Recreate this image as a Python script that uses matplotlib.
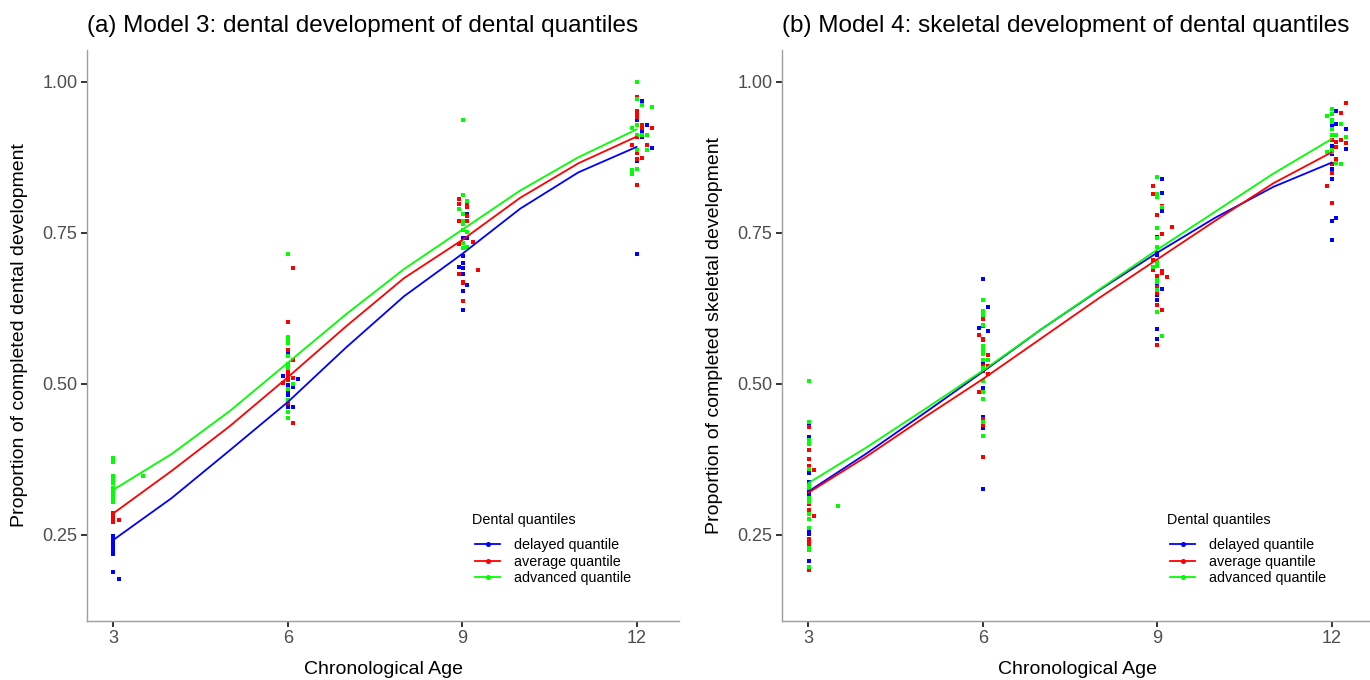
import matplotlib
matplotlib.use("Agg")
import matplotlib.pyplot as plt
from matplotlib.lines import Line2D

plt.rcParams['font.family'] = ['Liberation Sans', 'DejaVu Sans']

# ---------------- data ----------------
ages = [3, 4, 5, 6, 7, 8, 9, 10, 11, 12]
xticks = [3, 6, 9, 12]
yticks = [0.25, 0.50, 0.75, 1.00]
ytick_labels = ["0.25", "0.50", "0.75", "1.00"]
quantile_labels = ["delayed quantile", "average quantile", "advanced quantile"]
colors = ["#0000FF", "#FF0000", "#00FF00"]

# Panel (a) fitted lines
a_line_del = [0.242, 0.311, 0.390, 0.470, 0.560, 0.645, 0.715, 0.790, 0.850, 0.892]
a_line_avg = [0.286, 0.356, 0.430, 0.511, 0.595, 0.675, 0.738, 0.808, 0.865, 0.909]
a_line_adv = [0.325, 0.384, 0.455, 0.535, 0.615, 0.690, 0.755, 0.820, 0.875, 0.921]

# Panel (b) fitted lines
b_line_del = [0.322, 0.385, 0.452, 0.520, 0.590, 0.655, 0.717, 0.775, 0.826, 0.866]
b_line_avg = [0.320, 0.380, 0.445, 0.508, 0.575, 0.642, 0.706, 0.770, 0.832, 0.883]
b_line_adv = [0.336, 0.395, 0.458, 0.522, 0.590, 0.656, 0.722, 0.785, 0.848, 0.905]

# Panel (a) observed points
a_del_x = [3.0]*9 + [3.09] + [6.01]*5 + [5.92, 6.18, 6.09, 6.09] + [9.09, 9.01, 9.09] + [9.01]*6 + [8.94, 9.09] \
          + [12.09, 12.01, 12.01, 12.18, 12.09, 12.09, 12.26, 12.01]
a_del_y = [0.248, 0.245, 0.241, 0.237, 0.233, 0.230, 0.224, 0.218, 0.189, 0.177,
           0.552, 0.498, 0.487, 0.482, 0.462, 0.513, 0.508, 0.495, 0.462,
           0.781, 0.742, 0.742, 0.711, 0.700, 0.692, 0.681, 0.654, 0.622, 0.693, 0.663,
           0.968, 0.937, 0.869, 0.929, 0.917, 0.908, 0.891, 0.715]

a_avg_x = [3.0]*5 + [3.09] + [6.01]*6 + [6.09]*3 + [5.92, 6.09] + [8.94]*5 + [9.09]*4 + [9.18, 9.27] + [9.01]*3 \
          + [12.01]*8 + [12.09]*3 + [12.26, 11.93, 12.18]
a_avg_y = [0.287, 0.283, 0.279, 0.275, 0.272, 0.274,
           0.603, 0.556, 0.519, 0.513, 0.507, 0.468, 0.539, 0.510, 0.435, 0.502, 0.692,
           0.806, 0.798, 0.770, 0.731, 0.682, 0.800, 0.793, 0.777, 0.770, 0.734, 0.688, 0.669, 0.667, 0.637,
           0.975, 0.952, 0.945, 0.941, 0.908, 0.882, 0.872, 0.829, 0.929, 0.923, 0.873, 0.923, 0.895, 0.895]

a_adv_x = [3.0]*11 + [3.5] + [6.01]*11 + [6.09] + [9.01]*8 + [9.09]*3 + [8.94] \
          + [12.01]*6 + [12.09]*2 + [12.26] + [11.93]*3 + [12.18]*2
a_adv_y = [0.377, 0.370, 0.347, 0.341, 0.336, 0.327, 0.324, 0.320, 0.316, 0.309, 0.304, 0.347,
           0.715, 0.577, 0.572, 0.568, 0.546, 0.533, 0.527, 0.491, 0.474, 0.454, 0.443, 0.500,
           0.936, 0.813, 0.781, 0.770, 0.765, 0.755, 0.733, 0.725, 0.803, 0.752, 0.727, 0.790,
           1.000, 0.971, 0.929, 0.912, 0.887, 0.856, 0.961, 0.912, 0.958, 0.923, 0.854, 0.847, 0.912, 0.887]

# Panel (b) observed points
b_del_x = [3.01]*12 + [6.0]*6 + [6.09]*2 + [5.93] + [9.09]*4 + [9.0]*8 \
          + [12.08]*3 + [12.0]*7 + [12.25]*2 + [12.17]
b_del_y = [0.433, 0.412, 0.352, 0.337, 0.325, 0.320, 0.316, 0.308, 0.288, 0.258, 0.252, 0.207,
           0.674, 0.535, 0.494, 0.446, 0.427, 0.326, 0.628, 0.588, 0.592,
           0.839, 0.815, 0.786, 0.657, 0.743, 0.717, 0.714, 0.665, 0.647, 0.639, 0.591, 0.574,
           0.951, 0.930, 0.774, 0.929, 0.894, 0.880, 0.855, 0.839, 0.769, 0.738, 0.921, 0.889, 0.863]

b_avg_x = [3.01]*10 + [3.09]*2 + [6.0]*10 + [5.93]*2 + [6.09]*3 + [8.92]*4 + [9.09]*5 + [9.0]*7 + [9.25, 9.17] \
          + [12.25]*2 + [12.17]*2 + [12.0]*5 + [12.08]*3 + [11.92]
b_avg_y = [0.428, 0.391, 0.375, 0.364, 0.301, 0.291, 0.243, 0.236, 0.231, 0.192, 0.358, 0.281,
           0.608, 0.595, 0.575, 0.572, 0.530, 0.522, 0.442, 0.436, 0.432, 0.379, 0.581, 0.487, 0.547, 0.530, 0.517,
           0.828, 0.814, 0.705, 0.688, 0.795, 0.748, 0.686, 0.683, 0.623,
           0.779, 0.678, 0.661, 0.657, 0.650, 0.631, 0.564, 0.759, 0.677,
           0.965, 0.898, 0.948, 0.903, 0.904, 0.883, 0.864, 0.849, 0.799, 0.901, 0.892, 0.872, 0.827]

b_adv_x = [3.01]*15 + [3.5] + [6.0]*14 + [6.09] + [9.0]*12 + [9.09]*2 + [8.92] \
          + [12.0]*8 + [11.92]*2 + [12.17]*2 + [12.08]*2 + [12.25]
b_adv_y = [0.505, 0.437, 0.407, 0.401, 0.359, 0.333, 0.328, 0.312, 0.304, 0.285, 0.276, 0.261, 0.228, 0.225, 0.197, 0.298,
           0.639, 0.620, 0.614, 0.598, 0.563, 0.556, 0.549, 0.539, 0.526, 0.504, 0.486, 0.475, 0.437, 0.414, 0.540,
           0.843, 0.814, 0.810, 0.758, 0.741, 0.727, 0.702, 0.695, 0.672, 0.668, 0.656, 0.619, 0.792, 0.580, 0.693,
           0.954, 0.947, 0.937, 0.933, 0.921, 0.912, 0.887, 0.884, 0.944, 0.883, 0.930, 0.864, 0.911, 0.865, 0.908]

titles = ["(a) Model 3: dental development of dental quantiles",
          "(b) Model 4: skeletal development of dental quantiles"]
ylabels = ["Proportion of completed dental development",
           "Proportion of completed skeletal development"]
xlabel = "Chronological Age"
legend_title = "Dental quantiles"

# ---------------- figure ----------------
W, H = 1370, 680
fig = plt.figure(figsize=(W / 100, H / 100), dpi=100)

AX_TOP, AX_BOT, AX_W = 50, 620.5, 592
AX_H = AX_BOT - AX_TOP

def px_axes(left, right, top, bottom):
    return fig.add_axes([left / W, 1 - bottom / H, (right - left) / W, (bottom - top) / H])

ax_a = px_axes(87, 87 + AX_W, AX_TOP, AX_BOT)
ax_b = px_axes(782, 782 + AX_W, AX_TOP, AX_BOT)

panels = [
    (ax_a, [a_line_del, a_line_avg, a_line_adv],
     [(a_del_x, a_del_y), (a_avg_x, a_avg_y), (a_adv_x, a_adv_y)]),
    (ax_b, [b_line_del, b_line_avg, b_line_adv],
     [(b_del_x, b_del_y), (b_avg_x, b_avg_y), (b_adv_x, b_adv_y)]),
]

tick_gray = "#4D4D4D"
for i, (ax, lines, pts) in enumerate(panels):
    for (px, py), col in zip(pts, colors):
        ax.scatter(px, py, s=5, marker='s', color=col, linewidths=0, zorder=2)
    for ly, col in zip(lines, colors):
        ax.plot(ages, ly, color=col, lw=1.3, zorder=3)
    ax.set_xlim(2.544, 12.731)
    ax.set_ylim(0.1085, 1.0524)
    ax.set_xticks(xticks)
    ax.set_xticklabels([str(t) for t in xticks])
    ax.set_yticks(yticks)
    ax.set_yticklabels(ytick_labels)
    for s in ["top", "right"]:
        ax.spines[s].set_visible(False)
    for s in ["left", "bottom"]:
        ax.spines[s].set_color("#9E9E9E")
        ax.spines[s].set_linewidth(1.0)
    ax.tick_params(axis='both', length=4, width=1.4, color="#333333",
                   labelsize=13, labelcolor=tick_gray, pad=3)
    ax.set_xlabel(xlabel, fontsize=14, labelpad=10)
    ax.set_ylabel(ylabels[i], fontsize=14, labelpad=10)
    ax.set_title(titles[i], loc='left', fontsize=17.5, pad=13)

    # legend title as separate text, legend entries below it
    ax.text(385 / AX_W, (AX_BOT - 520) / AX_H, legend_title, transform=ax.transAxes,
            fontsize=10.4, ha='left', va='center')
    handles = [Line2D([], [], color=c, lw=1.3, marker='o', markersize=2.6) for c in colors]
    ax.legend(handles, quantile_labels, loc='upper left',
              bbox_to_anchor=((475 - 87) / AX_W, (AX_BOT - 538) / AX_H),
              frameon=False, fontsize=10.4,
              handlelength=1.75, handletextpad=0.95, labelspacing=0.18,
              borderpad=0, borderaxespad=0)

fig.savefig("out.png", dpi=100)
